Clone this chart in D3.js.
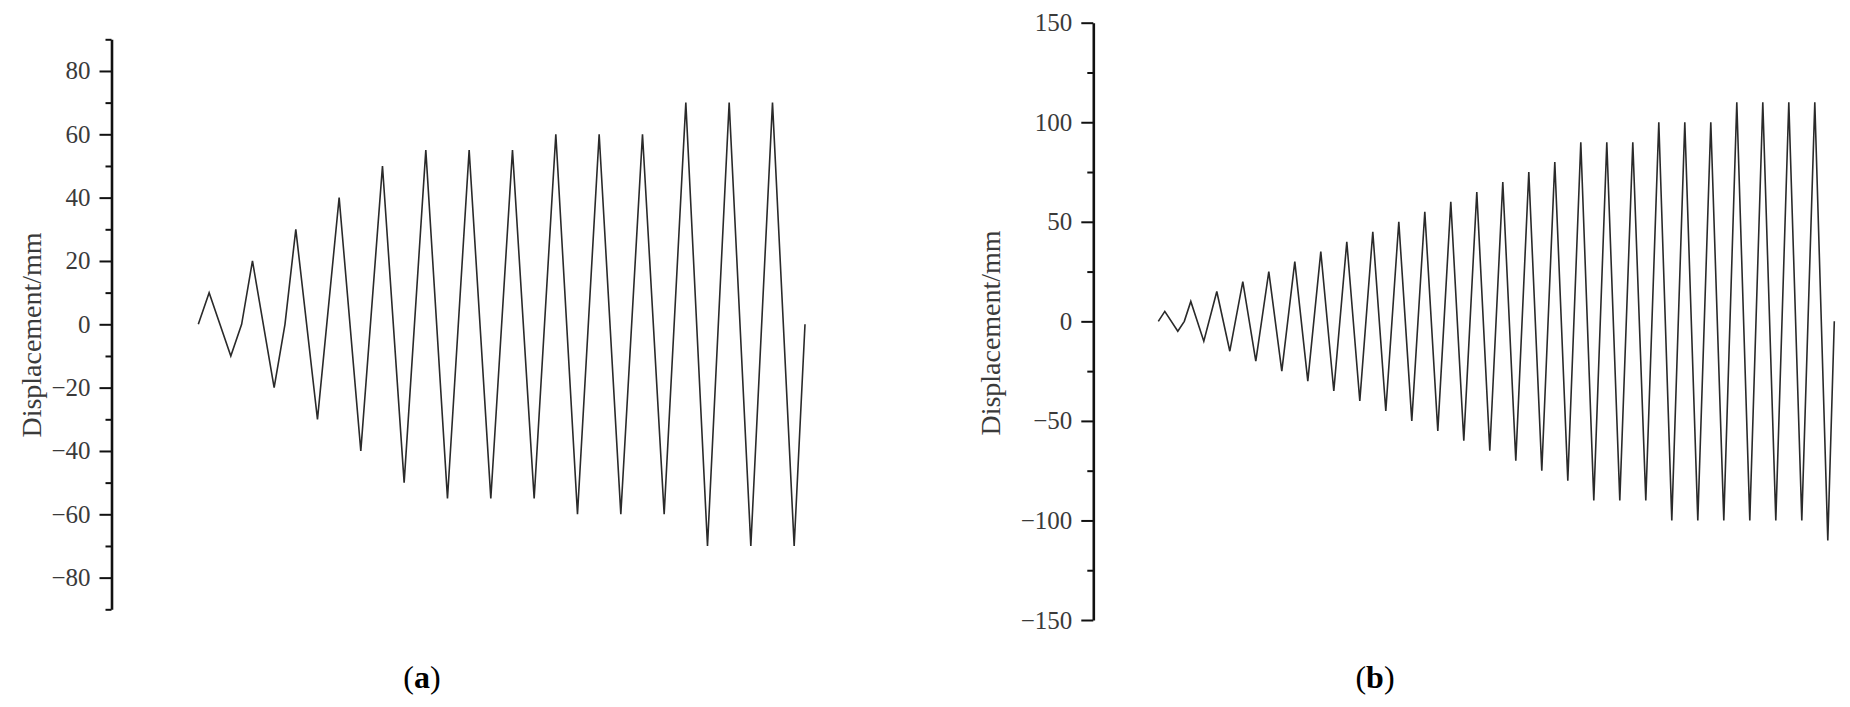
<!DOCTYPE html>
<html>
<head>
<meta charset="utf-8">
<script src="https://cdn.jsdelivr.net/npm/d3@7"></script>
<style>
  html, body { margin: 0; padding: 0; background: #fff; }
  svg { display: block; }
</style>
</head>
<body>
<svg id="chart" width="1850" height="707"></svg>
<script>
// ---------- Data (a) ----------
const stepsA = [0,1,3,4,5,7,8,9,11,13,15,17,19,21,23,25,27,29,31,33,35,37,39,41,43,45,47,49,51,53,55,56];
const dispA  = [0,10,-10,0,20,-20,0,30,-30,40,-40,50,-50,55,-55,55,-55,55,-55,60,-60,60,-60,60,-60,70,-70,70,-70,70,-70,0];
const majorTicksA = [-80,-60,-40,-20,0,20,40,60,80];
const minorTicksA = [-90,-70,-50,-30,-10,10,30,50,70,90];

// ---------- Data (b) ----------
const stepsB = [0,1,3,4,5,7,9,11,13,15,17,19,21,23,25,27,29,31,33,35,37,39,41,43,45,47,49,51,53,55,57,59,61,63,65,67,69,71,73,75,77,79,81,83,85,87,89,91,93,95,97,99,101,103,104];
const dispB  = [0,5,-5,0,10,-10,15,-15,20,-20,25,-25,30,-30,35,-35,40,-40,45,-45,50,-50,55,-55,60,-60,65,-65,70,-70,75,-75,80,-80,90,-90,90,-90,90,-90,100,-100,100,-100,100,-100,110,-100,110,-100,110,-100,110,-110,0];
const majorTicksB = [-150,-100,-50,0,50,100,150];
const minorTicksB = [-125,-75,-25,25,75,125];

const yLabel = "Displacement/mm";
const captions = ["a", "b"];

const svg = d3.select("#chart");
const fmt = d => d < 0 ? "\u2212" + Math.abs(d) : String(d);
const serif = "'Liberation Serif', 'DejaVu Serif', 'Times New Roman', serif";

function panel(cfg) {
  const x = d3.scaleLinear().domain(cfg.xDomain).range(cfg.xRange);
  const y = d3.scaleLinear().domain(cfg.yDomain).range(cfg.yRange);
  const g = svg.append("g");

  // minor ticks
  const minor = g.append("g").attr("transform", `translate(${cfg.axisX},0)`)
    .call(d3.axisLeft(y).tickValues(cfg.minor).tickSize(6).tickSizeOuter(0).tickFormat(""));
  minor.select(".domain").remove();
  minor.selectAll(".tick line").attr("stroke", "#111").attr("stroke-width", 2);

  // major ticks + domain
  const major = g.append("g").attr("transform", `translate(${cfg.axisX},0)`)
    .attr("font-family", serif)
    .call(d3.axisLeft(y).tickValues(cfg.major).tickSize(12).tickSizeOuter(0).tickPadding(9).tickFormat(fmt));
  major.attr("font-family", serif).attr("font-size", 25);
  major.select(".domain").attr("stroke", "#111").attr("stroke-width", 2.6);
  major.selectAll(".tick line").attr("stroke", "#111").attr("stroke-width", 2);
  major.selectAll(".tick text")
    .style("font-family", serif)
    .style("font-size", "25px")
    .attr("fill", "#3a3a3a");

  // y label
  g.append("text")
    .attr("transform", `translate(${cfg.labelX},${cfg.labelY}) rotate(-90)`)
    .attr("text-anchor", "middle")
    .style("font-family", serif)
    .style("font-size", "28px")
    .attr("fill", "#3a3a3a")
    .attr("textLength", 205)
    .attr("lengthAdjust", "spacing")
    .text(yLabel);

  // data line
  const line = d3.line().x(d => x(d[0])).y(d => y(d[1]));
  g.append("path")
    .datum(cfg.steps.map((s, i) => [s, cfg.disp[i]]))
    .attr("d", line)
    .attr("fill", "none")
    .attr("stroke", "#2a2a2a")
    .attr("stroke-width", 1.6)
    .attr("stroke-linejoin", "miter");

  // caption
  const cap = svg.append("text")
    .attr("x", cfg.capX).attr("y", 688)
    .attr("text-anchor", "middle")
    .style("font-family", serif)
    .style("font-size", "32px")
    .attr("fill", "#000");
  cap.append("tspan").text("(");
  cap.append("tspan").attr("font-weight", "bold").text(cfg.caption);
  cap.append("tspan").text(")");
}

panel({
  steps: stepsA, disp: dispA,
  xDomain: [0, 56], xRange: [198.3, 805],
  yDomain: [-90, 90], yRange: [609.3, 39.3],
  axisX: 111.5, major: majorTicksA, minor: minorTicksA,
  labelX: 41, labelY: 335, capX: 422, caption: captions[0]
});

panel({
  steps: stepsB, disp: dispB,
  xDomain: [0, 104], xRange: [1158.3, 1834.3],
  yDomain: [-150, 150], yRange: [620, 22.7],
  axisX: 1093.3, major: majorTicksB, minor: minorTicksB,
  labelX: 1000, labelY: 333, capX: 1375, caption: captions[1]
});
</script>
</body>
</html>
